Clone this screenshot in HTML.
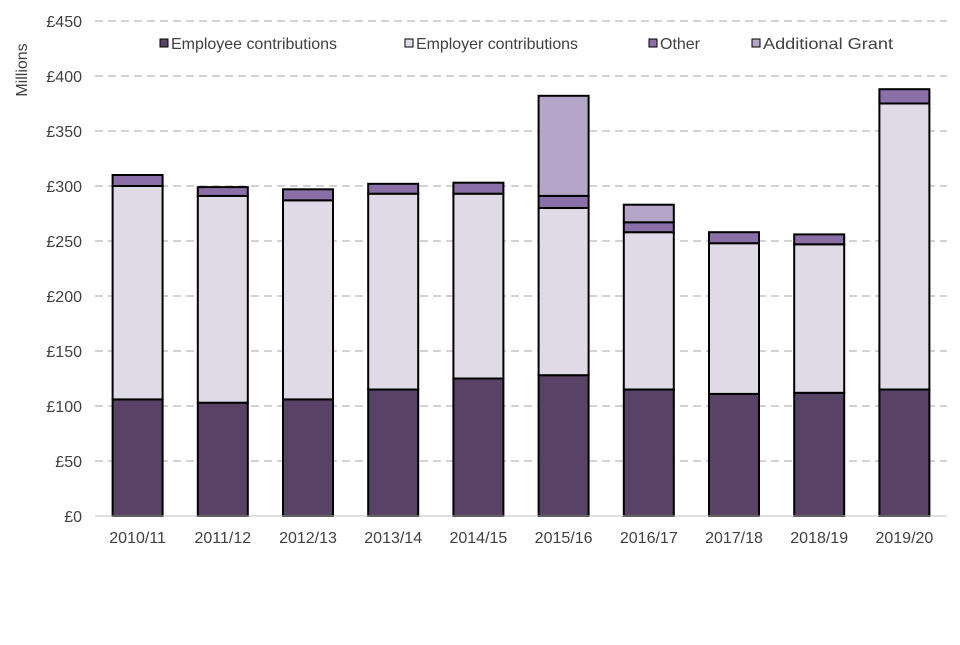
<!DOCTYPE html>
<html><head><meta charset="utf-8"><style>
body{margin:0;background:#fff;font-family:"Liberation Sans",Arial,sans-serif}
svg text{font-family:"Liberation Sans",Arial,sans-serif;fill:#404040}
</style></head><body>
<svg id="chart" width="960" height="640" viewBox="0 0 960 640" xmlns="http://www.w3.org/2000/svg">
<g id="grid"></g>
<g id="yticks"></g>
<text transform="translate(27,70) rotate(-90)" text-anchor="middle" font-size="16">Millions</text>
<g id="bars"></g>
<g id="xlabels"></g>
<line x1="95" x2="947" y1="516" y2="516" stroke="#bfbfbf" stroke-width="1"/>
<g font-size="16">
 <g><rect x="160" y="39" width="8" height="8" fill="#584366" stroke="#000"/><text x="171" y="49" textLength="166" lengthAdjust="spacingAndGlyphs">Employee contributions</text></g>
 <g><rect x="405" y="39" width="8" height="8" fill="#e0dae6" stroke="#000"/><text x="416" y="49" textLength="162" lengthAdjust="spacingAndGlyphs">Employer contributions</text></g>
 <g><rect x="649" y="39" width="8" height="8" fill="#8a6fa8" stroke="#000"/><text x="660" y="49" textLength="40" lengthAdjust="spacingAndGlyphs">Other</text></g>
 <g><rect x="752" y="39" width="8" height="8" fill="#b3a6c8" stroke="#000"/><text x="763" y="49" textLength="130" lengthAdjust="spacingAndGlyphs">Additional Grant</text></g>
</g>
</svg>
<script>
const categories=["2010/11","2011/12","2012/13","2013/14","2014/15","2015/16","2016/17","2017/18","2018/19","2019/20"];
const employee=[106,103,106,115,125,128,115,111,112,115];
const employer=[194,188,181,178,168,152,143,137,135,260];
const other=[10,8,10,9,10,11,9,10,9,13];
const additionalGrant=[0,0,0,0,0,91,16,0,0,0];
const yTicks=[0,50,100,150,200,250,300,350,400,450];
const NS="http://www.w3.org/2000/svg";
const y0=516,yScale=495/450,x0=95,step=85.2,barW=50;
const y=v=>y0-v*yScale;
const xc=i=>x0+step*(i+0.5);
const mk=(t,a,p)=>{const e=document.createElementNS(NS,t);for(const k in a)e.setAttribute(k,a[k]);p.appendChild(e);return e;};
const grid=document.getElementById('grid'),yt=document.getElementById('yticks'),bars=document.getElementById('bars'),xl=document.getElementById('xlabels');
yTicks.forEach(v=>{
 if(v>0){const l=mk('line',{x1:95,x2:947,y1:y(v),y2:y(v),stroke:'#a6a6a6','stroke-dasharray':'8,5'},grid);
 
 }
 const t=mk('text',{x:82,y:y(v)+6,'text-anchor':'end','font-size':16},yt);t.textContent='£'+v;
 
 
});
const series=[[employee,'#584366','employee'],[employer,'#e0dae6','employer'],[other,'#8a6fa8','other'],[additionalGrant,'#b3a6c8','grant']];
categories.forEach((c,i)=>{
 let base=0;
 series.forEach(([arr,col,nm])=>{
  const v=arr[i];if(!v)return;
  const r=mk('rect',{x:xc(i)-barW/2,y:y(base+v),width:barW,height:v*yScale,fill:col,stroke:'#000','stroke-width':2},bars);
  
  
  base+=v;
 });
 const t=mk('text',{x:xc(i),y:543,'text-anchor':'middle','font-size':16},xl);t.textContent=c;
 
 
});
</script>
</body></html>
